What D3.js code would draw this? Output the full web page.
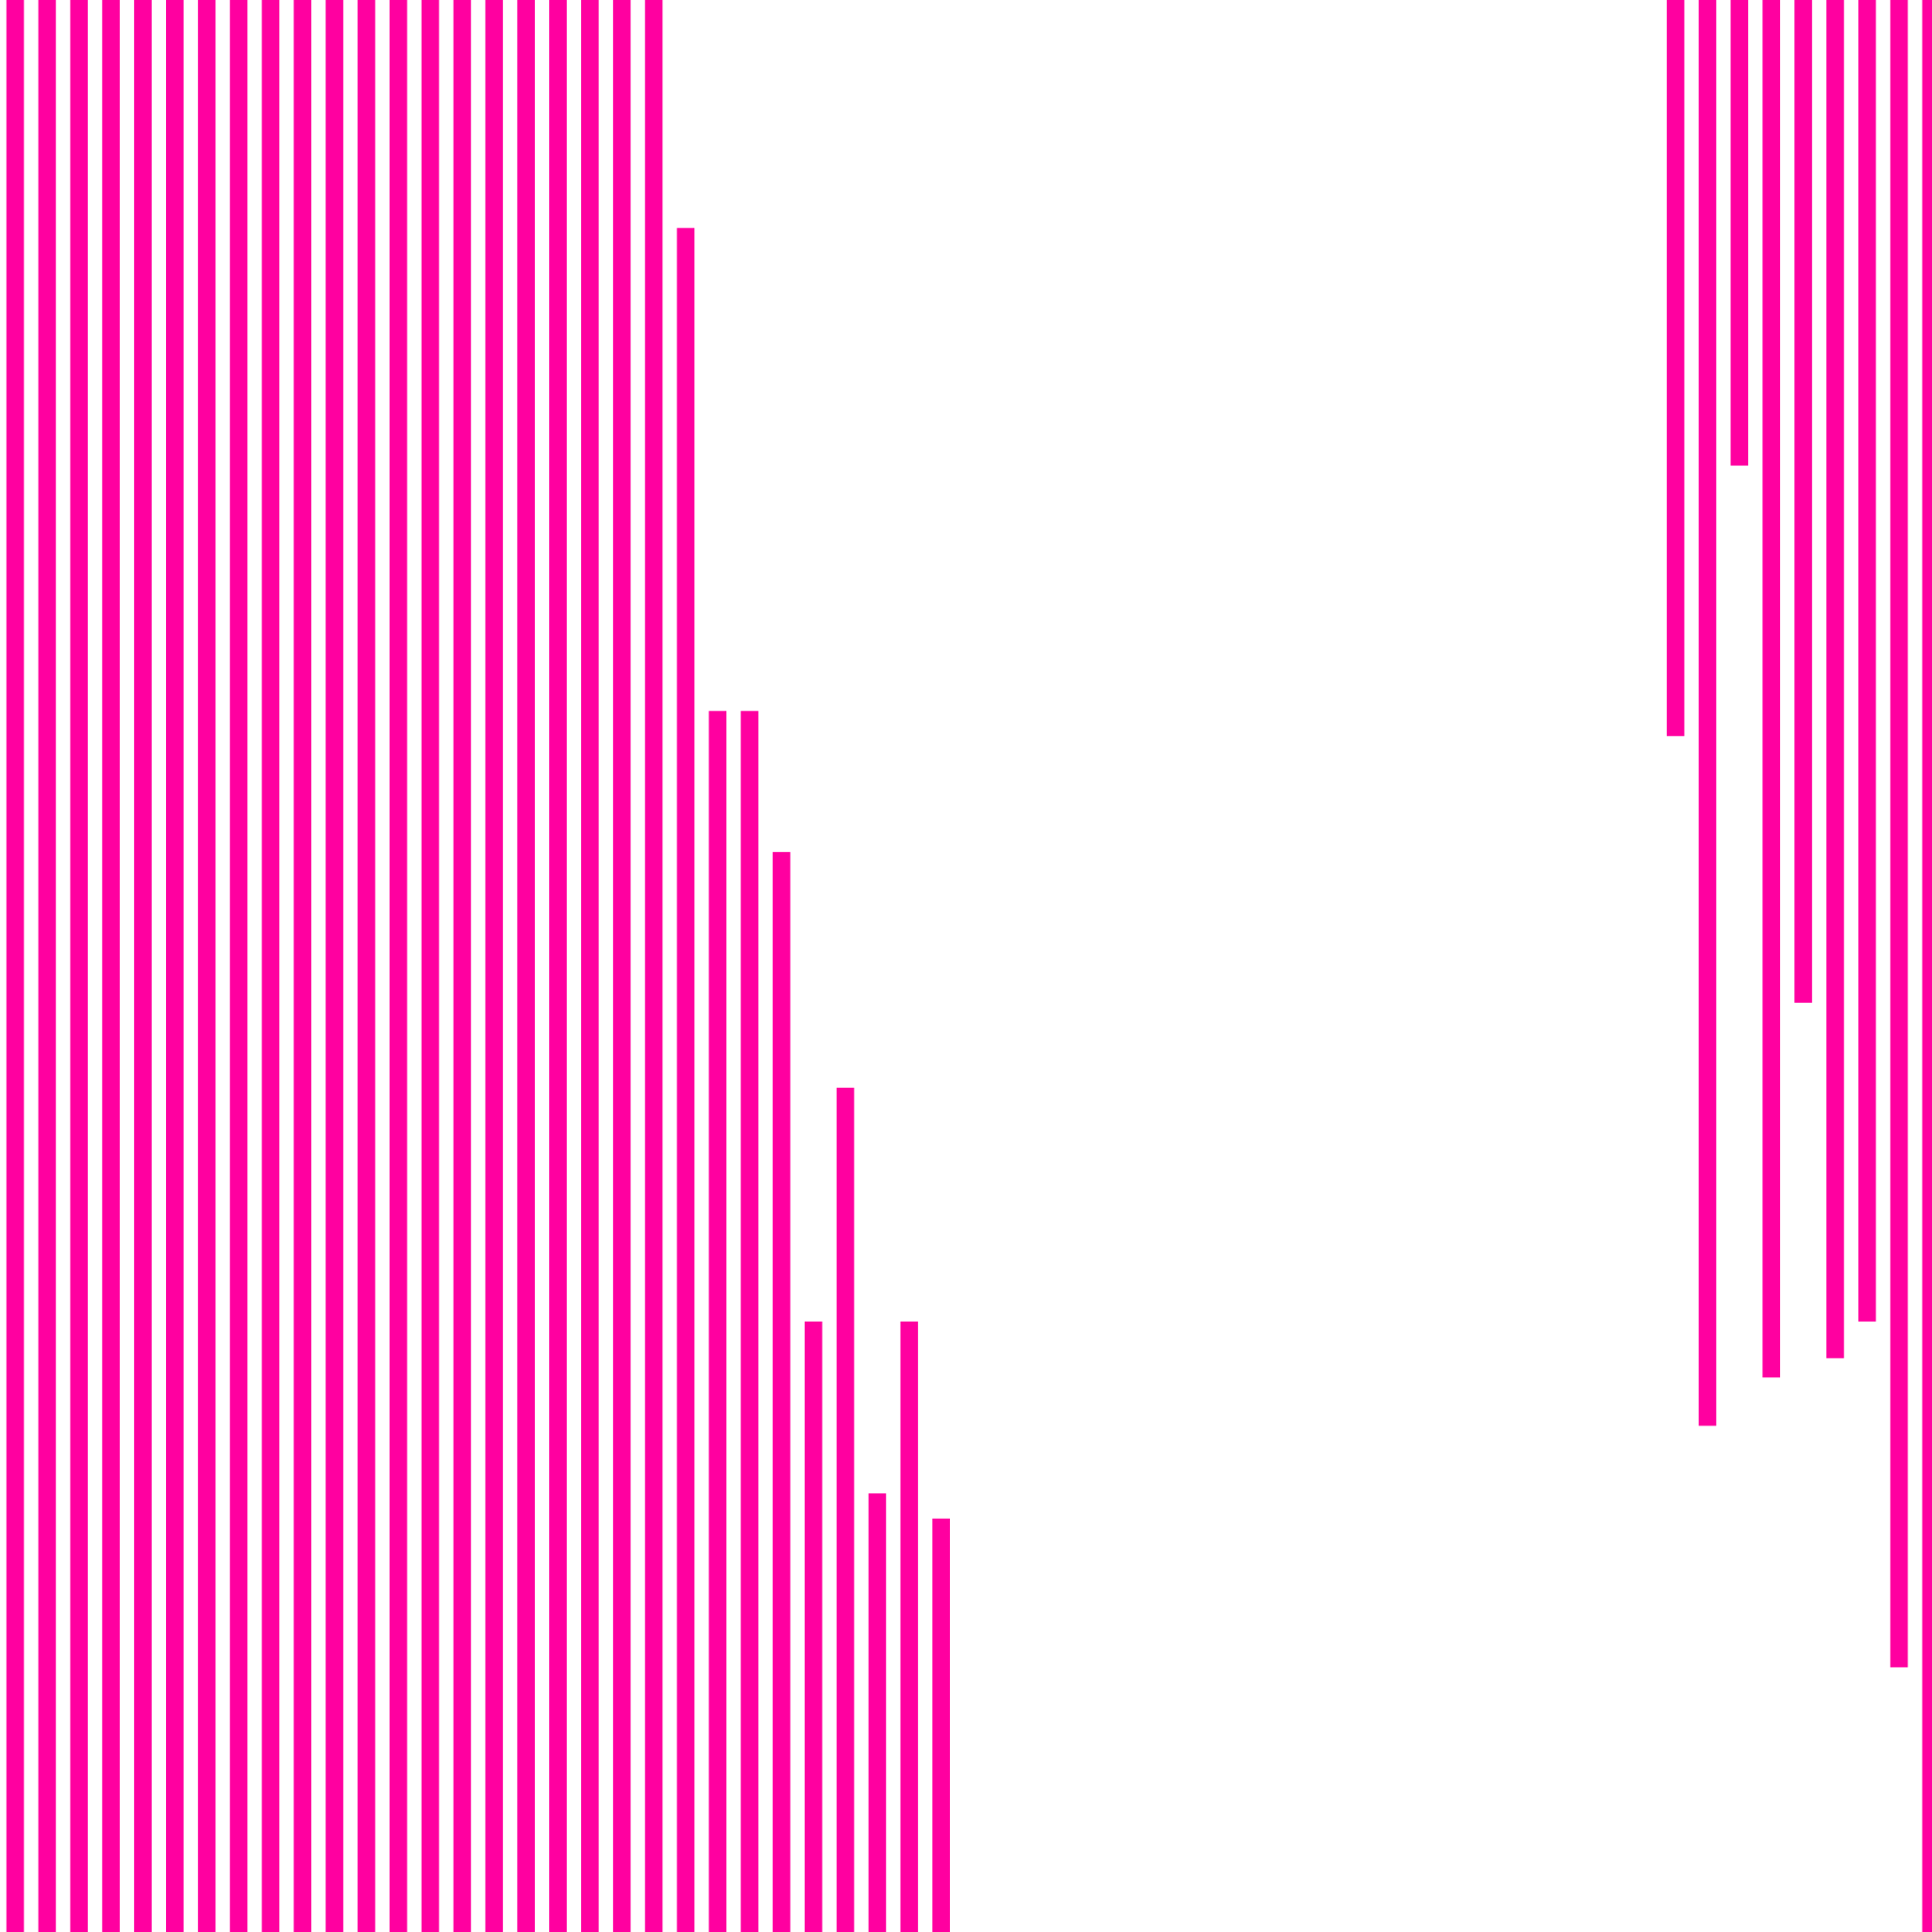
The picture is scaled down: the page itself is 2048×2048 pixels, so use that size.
<!DOCTYPE html>
<html>
<head>
<meta charset="utf-8">
<script src="https://cdn.jsdelivr.net/npm/d3@7"></script>
<style>
  body { margin: 0; background: #fff; overflow: hidden; }
</style>
</head>
<body>
<svg class="chart"></svg>
<script>
// categories, one per bar slot
var categories = d3.range(1, 62).map(String);

// bars read as floating ranges [low, high]; null = no bar
var lowValues = [
  0, 0, 0, 0, 0, 0, 0, 0, 0, 0,
  0, 0, 0, 0, 0, 0, 0, 0, 0, 0,
  0, 0, 0, 0, 0, 0, 0, 0, 0, 0,
  null, null, null, null, null, null, null, null, null, null,
  null, null, null, null, null, null, null, null, null, null,
  null, null,
  61.9, 26.2, 75.9, 28.7, 48.1, 29.7, 31.6, 13.7, 0
];

var highValues = [
  100, 100, 100, 100, 100, 100, 100, 100, 100, 100,
  100, 100, 100, 100, 100, 100, 100, 100, 100, 100,
  100, 88.2, 63.2, 63.2, 55.9, 31.6, 43.7, 22.7, 31.6, 21.4,
  null, null, null, null, null, null, null, null, null, null,
  null, null, null, null, null, null, null, null, null, null,
  null, null,
  100, 100, 100, 100, 100, 100, 100, 100, 100
];

var width = 2048,
    height = 2048;

var chart = d3.select(".chart")
    .attr("width", width)
    .attr("height", height);

var data = categories.map(function(c, i) {
  return {name: c, low: lowValues[i], high: highValues[i]};
}).filter(function(d) {
  return d.low != null && d.high != null;
});

// band range runs a little past the right edge, so the last bar is cut
var x = d3.scaleBand()
    .domain(categories)
    .range([0, 2063])
    .paddingInner(0.45)
    .paddingOuter(0.2);

var y = d3.scaleLinear()
    .domain([0, 100])
    .range([height, 0]);

chart.selectAll(".bar")
    .data(data)
    .enter()
    .append("rect")
    .attr("class", "bar")
    .attr("x", function(d) { return x(d.name); })
    .attr("width", x.bandwidth())
    .attr("y", function(d) { return y(d.high); })
    .attr("height", function(d) { return y(d.low) - y(d.high); })
    .style("fill", "#ff00a0");
</script>
</body>
</html>
